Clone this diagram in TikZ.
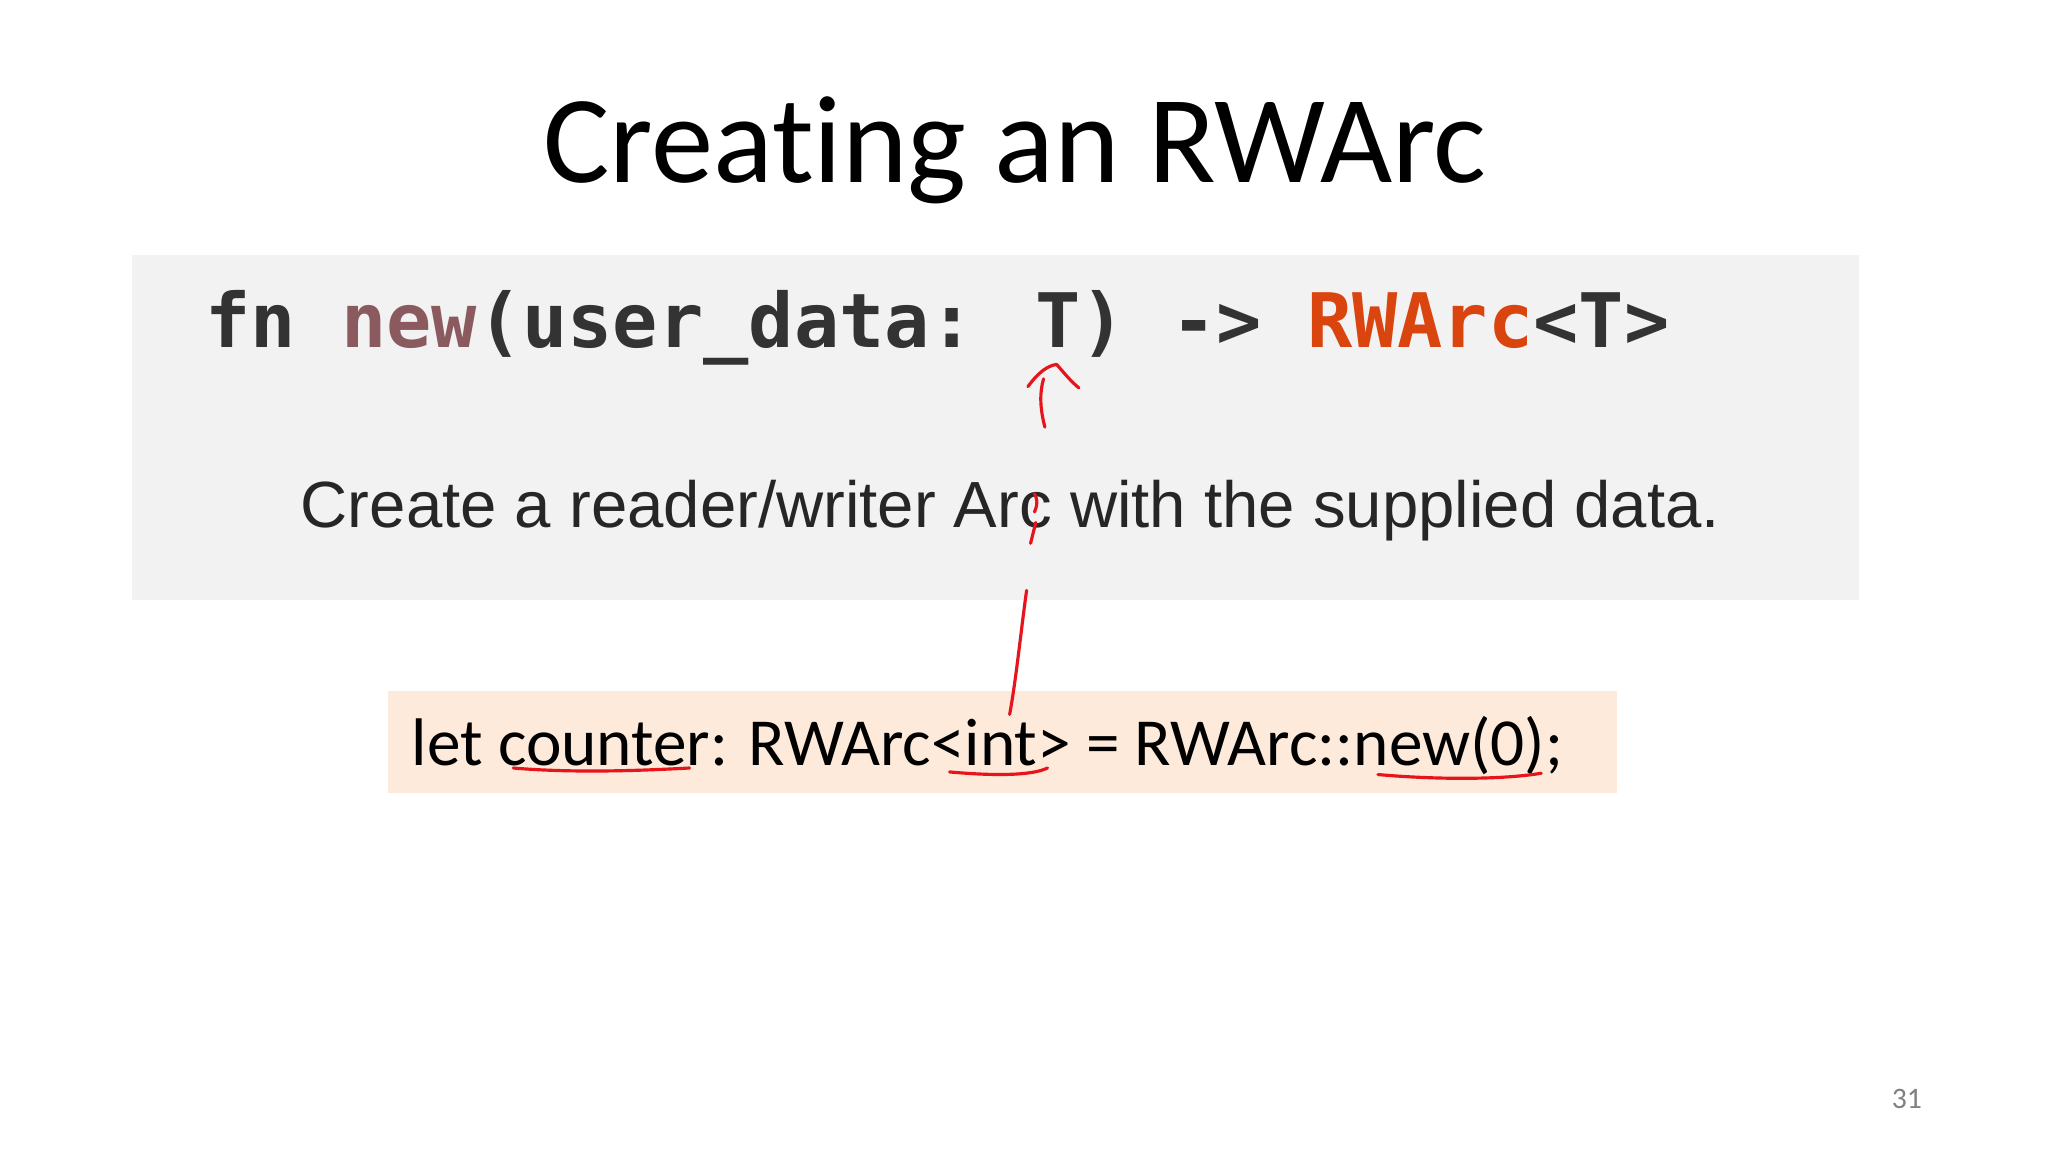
\documentclass[tikz,border=0pt]{standalone}
\usepackage{fontspec}
\setmainfont{Carlito}[Ligatures={NoCommon}]
\newfontfamily\monob{DejaVu Sans Mono}
\newfontfamily\helv{Liberation Sans}
\definecolor{boxgray}{HTML}{F2F2F2}
\definecolor{peach}{HTML}{FDEADA}
\definecolor{codegray}{HTML}{333333}
\definecolor{mauve}{HTML}{8A5A5E}
\definecolor{rustred}{HTML}{D9440F}
\definecolor{ink}{HTML}{E8141B}
\begin{document}
\begin{tikzpicture}[x=0.66pt,y=-0.66pt,
  pen/.style={draw=ink,line width=1.6pt,line cap=round,line join=round}]
\useasboundingbox (0,0) rectangle (1568,882);
\fill[white] (0,0) rectangle (1568,882);
\node[anchor=base,font=\fontsize{63}{70}\selectfont] (title) at (777,140) {Creating an RWArc};
\fill[boxgray] (101,195) rectangle (1423,459);
\node[anchor=base west,inner sep=0,font=\monob\bfseries\fontsize{38}{42}\selectfont,text=codegray] (code) at (157,266)
  {fn \textcolor{mauve}{new}(user\_data: T) -> \textcolor{rustred}{RWArc}<T>};
\node[anchor=base west,inner sep=0,font=\helv\fontsize{33}{38}\selectfont,text=black!85] (desc) at (230,404)
  {Create a reader/writer Arc with the supplied data.};
\fill[peach] (297,529) rectangle (1238,607);
\node[anchor=base west,inner sep=0,font=\fontsize{34}{40}\selectfont] (let) at (315,586)
  {let counter: RWArc<int> = RWArc::new(0);};
\node[anchor=base,font=\fontsize{15}{18}\selectfont,text=gray] (pg) at (1460,849) {31};
% annotations
\draw[pen] (393,588) .. controls (440,592) and (490,590) .. (528,588);
\draw[pen] (727,591) .. controls (760,594) and (790,594) .. (802,588);
\draw[pen] (1055,593) .. controls (1100,597) and (1150,597) .. (1180,592);
\draw[pen] (773,547) .. controls (778,520) and (782,480) .. (786,452);
\draw[pen] (789,416) -- (793,400);
\draw[pen] (792,392) .. controls (795,385) and (794,382) .. (792,378);
\draw[pen] (800,327) .. controls (796,312) and (796,300) .. (799,290);
\draw[pen] (787,296) .. controls (795,285) and (802,280) .. (809,279);
\draw[pen] (809,279) .. controls (815,286) and (820,292) .. (826,297);
\end{tikzpicture}
\end{document}
